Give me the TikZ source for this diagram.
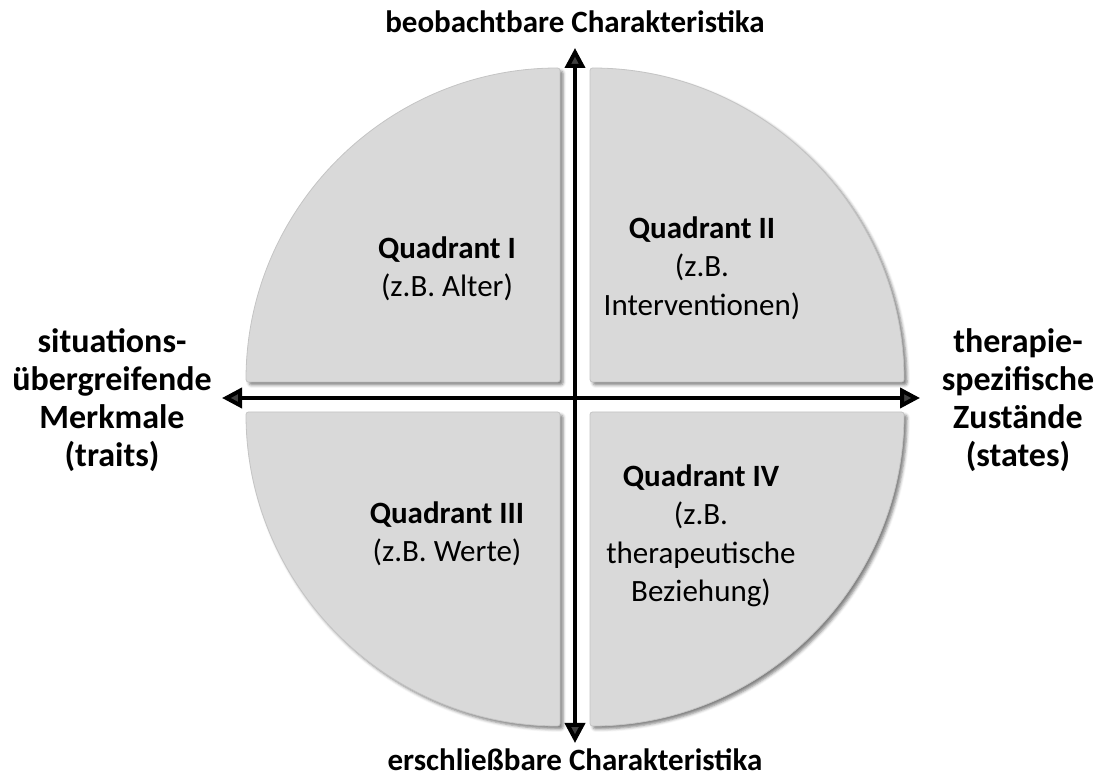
\documentclass[tikz,border=0pt]{standalone}
\usepackage{fontspec}
\setmainfont{Carlito}
\usetikzlibrary{arrows.meta,shadows.blur}

\definecolor{quadfill}{HTML}{D9D9D9}
\definecolor{quadline}{HTML}{C4C4C4}

\tikzset{
  quadrant/.style={fill=quadfill, draw=quadline, line width=0.8pt,
    rounded corners=2.5pt,
    blur shadow={shadow xshift=3pt, shadow yshift=-3pt,
                 shadow blur radius=3pt, shadow opacity=50}},
  axis/.style={line width=4pt,
    {Triangle[length=20pt,width=20pt]}-{Triangle[length=20pt,width=20pt]}},
  quadtext/.style={align=center, inner sep=0pt,
    font=\fontsize{31}{38.5}\selectfont},
  sidetext/.style={align=center, inner sep=0pt,
    font=\bfseries\fontsize{34}{38}\selectfont},
  endtext/.style={inner sep=0pt, font=\bfseries\fontsize{31}{38}\selectfont}
}

\begin{document}
\begin{tikzpicture}[x=1pt,y=1pt]
  \useasboundingbox (0,0) rectangle (1104,782);

  % four quarter discs around the crossing of the axes
  \path[quadrant] (560,400) -- (560,714) arc[start angle=90,end angle=180,radius=314] -- cycle;
  \path[quadrant] (590,400) -- (904,400) arc[start angle=0,end angle=90,radius=314] -- cycle;
  \path[quadrant] (560,370) -- (246,370) arc[start angle=180,end angle=270,radius=314] -- cycle;
  \path[quadrant] (590,370) -- (590,56) arc[start angle=270,end angle=360,radius=314] -- cycle;

  % ends of the two axes
  \coordinate (vtop) at (575,734);
  \coordinate (vbot) at (575,39);
  \coordinate (hleft) at (222,384);
  \coordinate (hright) at (920,384);

  \draw[axis] (vbot) -- (vtop);
  \draw[axis] (hleft) -- (hright);

  % axis labels
  \node[endtext] (obs) at (575,760) {beobachtbare Charakteristika};
  \node[endtext] (inf) at (575,22) {erschließbare Charakteristika};
  \node[sidetext] (traits) at (112,382) {situations-\\übergreifende\\Merkmale\\(traits)};
  \node[sidetext] (states) at (1018,382) {therapie-\\spezifische\\Zustände\\(states)};

  % quadrant labels
  \node[quadtext] (q1) at (447,513) {\textbf{Quadrant I}\\(z.B. Alter)};
  \node[quadtext] (q2) at (702,514) {\textbf{Quadrant II}\\(z.B.\\Interventionen)};
  \node[quadtext] (q3) at (447,248) {\textbf{Quadrant III}\\(z.B. Werte)};
  \node[quadtext] (q4) at (701,246) {\textbf{Quadrant IV}\\(z.B.\\therapeutische\\Beziehung)};
\end{tikzpicture}
\end{document}
